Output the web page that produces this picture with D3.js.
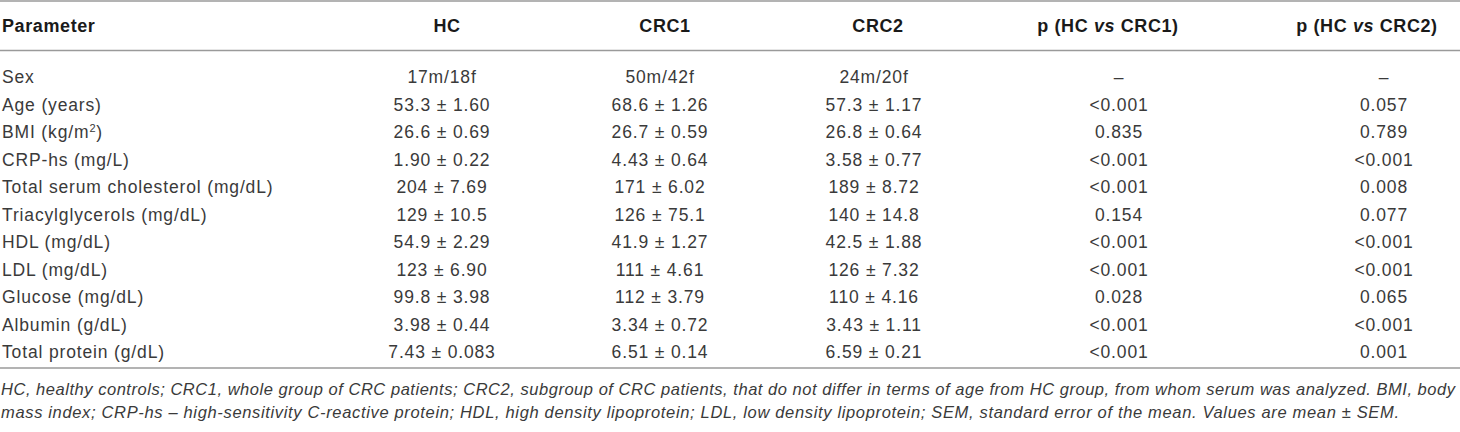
<!DOCTYPE html>
<html>
<head>
<meta charset="utf-8">
<script src="https://cdn.jsdelivr.net/npm/d3@7"></script>
<style>
  body { margin: 0; background: #fff; }
  text { font-family: "Liberation Sans", Arial, sans-serif; fill: #3a3a3a; }
  .head { font-weight: bold; fill: #1a1a1a; font-size: 18px; letter-spacing: 0.6px; }
  .cell { font-size: 17.5px; letter-spacing: 0.85px; }
  .note { font-style: italic; font-size: 16.5px; }
  .rule { stroke: #9a9a9a; stroke-width: 1.6; }
</style>
</head>
<body>
<div id="chart"></div>
<script>
// table content
const parameters = ["Sex", "Age (years)", "BMI (kg/m²)", "CRP-hs (mg/L)", "Total serum cholesterol (mg/dL)",
  "Triacylglycerols (mg/dL)", "HDL (mg/dL)", "LDL (mg/dL)", "Glucose (mg/dL)", "Albumin (g/dL)", "Total protein (g/dL)"];
const hc   = ["17m/18f", "53.3 ± 1.60", "26.6 ± 0.69", "1.90 ± 0.22", "204 ± 7.69", "129 ± 10.5", "54.9 ± 2.29", "123 ± 6.90", "99.8 ± 3.98", "3.98 ± 0.44", "7.43 ± 0.083"];
const crc1 = ["50m/42f", "68.6 ± 1.26", "26.7 ± 0.59", "4.43 ± 0.64", "171 ± 6.02", "126 ± 75.1", "41.9 ± 1.27", "111 ± 4.61", "112 ± 3.79", "3.34 ± 0.72", "6.51 ± 0.14"];
const crc2 = ["24m/20f", "57.3 ± 1.17", "26.8 ± 0.64", "3.58 ± 0.77", "189 ± 8.72", "140 ± 14.8", "42.5 ± 1.88", "126 ± 7.32", "110 ± 4.16", "3.43 ± 1.11", "6.59 ± 0.21"];
const pCrc1 = ["–", "<0.001", "0.835", "<0.001", "<0.001", "0.154", "<0.001", "<0.001", "0.028", "<0.001", "<0.001"];
const pCrc2 = ["–", "0.057", "0.789", "<0.001", "0.008", "0.077", "<0.001", "<0.001", "0.065", "<0.001", "0.001"];
const columns = ["HC", "CRC1", "CRC2", "pHC1", "pHC2"];
const footnotes = [
  "HC, healthy controls; CRC1, whole group of CRC patients; CRC2, subgroup of CRC patients, that do not differ in terms of age from HC group, from whom serum was analyzed. BMI, body",
  "mass index; CRP-hs – high-sensitivity C-reactive protein; HDL, high density lipoprotein; LDL, low density lipoprotein; SEM, standard error of the mean. Values are mean ± SEM."
];

const width = 1460, height = 432;
const svg = d3.select("#chart").append("svg")
  .attr("width", width)
  .attr("height", height);

// row and column positions
const y = d3.scalePoint().domain(parameters).range([77, 352]);
const headX = d3.scaleOrdinal().domain(columns).range([447, 665, 878, 1108, 1367]);
const cellX = d3.scaleOrdinal().domain(columns).range([442, 660, 874, 1119, 1384]);
const noteY = d3.scalePoint().domain([0, 1]).range([389, 412]);

const colData = { HC: hc, CRC1: crc1, CRC2: crc2, pHC1: pCrc1, pHC2: pCrc2 };

// horizontal rules
svg.selectAll(".rule")
  .data([1, 50.5, 368])
  .enter().append("line")
  .attr("class", "rule")
  .attr("x1", 0).attr("x2", width)
  .attr("y1", d => d).attr("y2", d => d);

// header
const header = svg.append("g");
header.append("text")
  .attr("class", "head")
  .attr("x", 2).attr("y", 32)
  .text("Parameter");

const headTexts = header.selectAll(".colhead")
  .data(columns)
  .enter().append("text")
  .attr("class", "head colhead")
  .attr("x", d => headX(d))
  .attr("y", 32)
  .attr("text-anchor", "middle");

headTexts.each(function(d) {
  const t = d3.select(this);
  if (d === "pHC1" || d === "pHC2") {
    t.append("tspan").text("p (HC ");
    t.append("tspan").style("font-style", "italic").text("vs");
    t.append("tspan").text(d === "pHC1" ? " CRC1)" : " CRC2)");
  } else {
    t.text(d);
  }
});

// row labels
const labels = svg.selectAll(".label")
  .data(parameters)
  .enter().append("text")
  .attr("class", "cell label")
  .attr("x", 2)
  .attr("y", d => y(d))
  .attr("dy", "0.36em");

labels.each(function(d) {
  const t = d3.select(this);
  if (d.includes("²")) {
    t.append("tspan").text("BMI (kg/m");
    t.append("tspan").attr("baseline-shift", "super").style("font-size", "11px").text("2");
    t.append("tspan").text(")");
  } else {
    t.text(d);
  }
});

// cells
columns.forEach(col => {
  svg.selectAll(".c-" + col)
    .data(colData[col])
    .enter().append("text")
    .attr("class", "cell c-" + col)
    .attr("x", cellX(col))
    .attr("y", (d, i) => y(parameters[i]))
    .attr("dy", "0.36em")
    .attr("text-anchor", "middle")
    .text(d => d);
});

// footnote
svg.selectAll(".note")
  .data(footnotes)
  .enter().append("text")
  .attr("class", "note")
  .attr("x", 1)
  .attr("y", (d, i) => noteY(i))
  .attr("dy", "0.36em")
  .attr("textLength", (d, i) => i === 0 ? 1454 : 1398)
  .attr("lengthAdjust", "spacing")
  .text(d => d);
</script>
</body>
</html>
